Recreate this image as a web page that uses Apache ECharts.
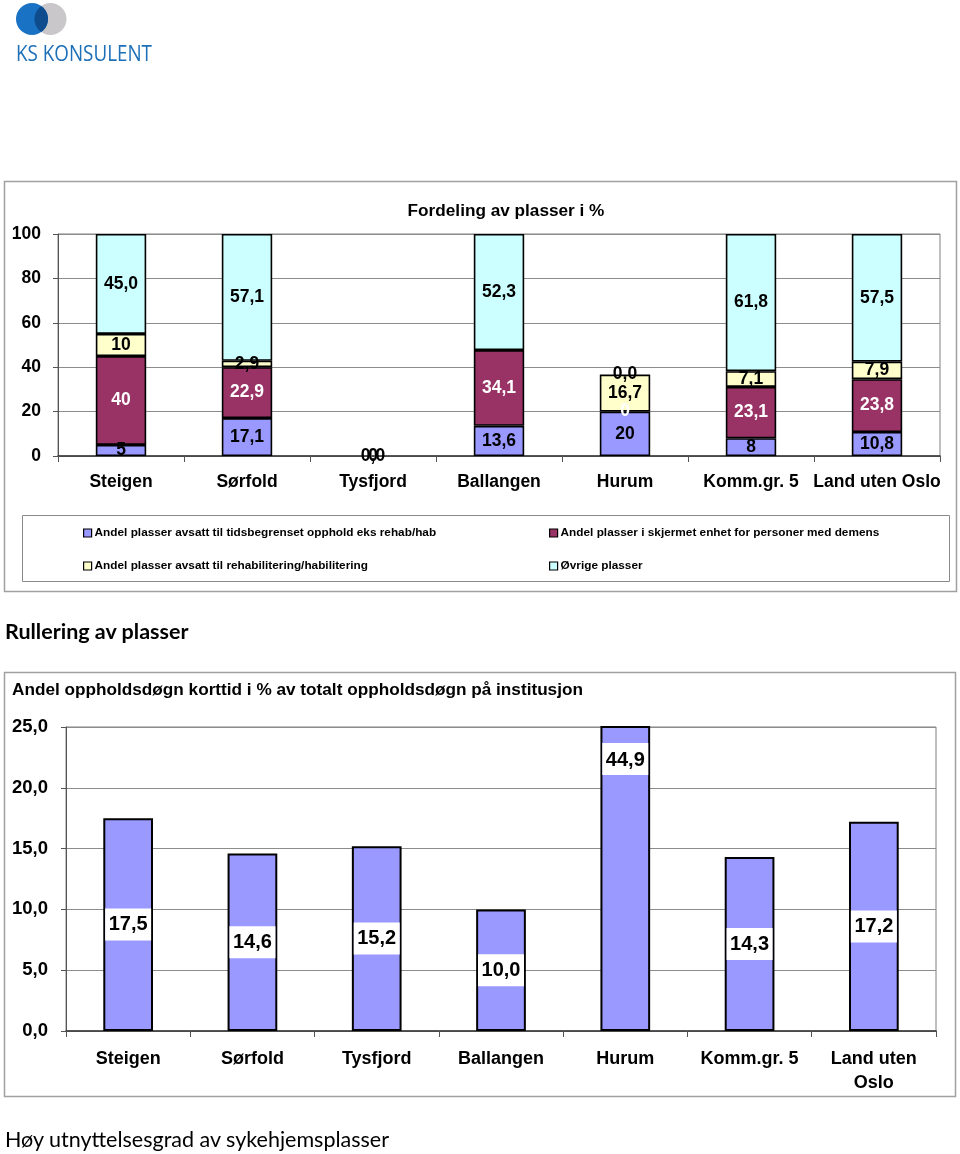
<!DOCTYPE html>
<html>
<head>
<meta charset="utf-8">
<script src="https://cdn.jsdelivr.net/npm/echarts@6/dist/echarts.min.js"></script>
<style>
html,body{margin:0;padding:0;background:#fff;}
#c{position:absolute;left:0;top:0;width:960px;height:1154px;}
#logo{position:absolute;left:0;top:0;width:170px;height:70px;}
.pt{position:absolute;left:5px;font-family:Lato,'Open Sans',sans-serif;color:#000;white-space:nowrap;}
</style>
</head>
<body>
<div id="c"></div>
<div id="logo">
<svg width="170" height="70" xmlns="http://www.w3.org/2000/svg">
<defs><clipPath id="cb"><circle cx="32" cy="19" r="16"/></clipPath></defs>
<circle cx="50.5" cy="19" r="16" fill="#c9c7c9"/>
<circle cx="32" cy="19" r="16" fill="#1a72c4"/>
<circle cx="50.5" cy="19" r="16" fill="#0f4c8e" clip-path="url(#cb)"/>
<text x="16" y="61" font-family="'Open Sans',sans-serif" font-size="21" fill="#1d6fb8" textLength="136" lengthAdjust="spacingAndGlyphs">KS KONSULENT</text>
</svg>
</div>
<div class="pt" style="top:618px;font-size:21.5px;font-weight:bold;">Rullering av plasser</div>
<div class="pt" style="top:1126px;font-size:21.5px;">Høy utnyttelsesgrad av sykehjemsplasser</div>
<script>
// ---- Chart 1: Fordeling av plasser i % ----
const categories1 = ['Steigen', 'Sørfold', 'Tysfjord', 'Ballangen', 'Hurum', 'Komm.gr. 5', 'Land uten Oslo'];
const seriesNames1 = [
  'Andel plasser avsatt til tidsbegrenset opphold eks rehab/hab',
  'Andel plasser i skjermet enhet for personer med demens',
  'Andel plasser avsatt til rehabilitering/habilitering',
  'Øvrige plasser'
];
const tidsbegrenset = [5, 17.1, 0, 13.6, 20, 8, 10.8];
const tidsbegrensetLabels = ['5', '17,1', '0', '13,6', '20', '8', '10,8'];
const skjermet = [40, 22.9, 0, 34.1, 0, 23.1, 23.8];
const skjermetLabels = ['40', '22,9', '0', '34,1', '0', '23,1', '23,8'];
const rehab = [10, 2.9, 0, 0, 16.7, 7.1, 7.9];
const rehabLabels = ['10', '2,9', '0', '', '16,7', '7,1', '7,9'];
const ovrige = [45.0, 57.1, 0, 52.3, 0.0, 61.8, 57.5];
const ovrigeLabels = ['45,0', '57,1', '0,0', '52,3', '0,0', '61,8', '57,5'];
const yMax1 = 100, yStep1 = 20;

// ---- Chart 2: Andel oppholdsdøgn korttid ----
const categories2 = ['Steigen', 'Sørfold', 'Tysfjord', 'Ballangen', 'Hurum', 'Komm.gr. 5', 'Land uten\nOslo'];
const korttid = [17.5, 14.6, 15.2, 10.0, 44.9, 14.3, 17.2];
const yMax2 = 25, yStep2 = 5;

const title1 = 'Fordeling av plasser i %';
const title2 = 'Andel oppholdsdøgn korttid i % av totalt oppholdsdøgn på institusjon';

const FONT = "'Liberation Sans', Arial, sans-serif";
const colors1 = ['#9999FF', '#993366', '#FFFFCC', '#CCFFFF'];
const labelColors1 = ['#000', '#fff', '#000', '#000'];
const values1 = [tidsbegrenset, skjermet, rehab, ovrige];
const labels1 = [tidsbegrensetLabels, skjermetLabels, rehabLabels, ovrigeLabels];

const chart = echarts.init(document.getElementById('c'), null, {renderer: 'canvas'});

const stackSeries = values1.map((arr, s) => ({
  name: seriesNames1[s],
  type: 'bar',
  stack: 'total',
  xAxisIndex: 0, yAxisIndex: 0,
  barWidth: '40%',
  itemStyle: {color: colors1[s], borderColor: '#000', borderWidth: 1.6},
  label: {
    show: true, position: 'inside', color: labelColors1[s],
    fontFamily: FONT, fontWeight: 'bold', fontSize: 17.5,
    formatter: p => labels1[s][p.dataIndex]
  },
  data: arr.map(v => v === 0 ? {value: v, itemStyle: {borderWidth: 0}} : v)
}));

const legendPos = [[83, 527], [549, 527], [83, 560], [549, 560]];
const legends = seriesNames1.map((n, i) => ({
  data: [n],
  left: legendPos[i][0], top: legendPos[i][1],
  padding: 0,
  icon: 'rect', itemWidth: 8, itemHeight: 8,
  itemStyle: {borderColor: '#000', borderWidth: 1.2},
  selectedMode: false,
  textStyle: {fontFamily: FONT, fontSize: 11.8, fontWeight: 'bold', color: '#000', padding: [0, 0, 0, -2]}
}));

const option = {
  animation: false,
  legend: legends,
  grid: [
    {left: 58, right: 20, top: 234, bottom: 1154 - 456, show: true, borderColor: '#808080', borderWidth: 1, containLabel: false},
    {left: 66, right: 24, top: 727, bottom: 1154 - 1031, show: true, borderColor: '#808080', borderWidth: 1, containLabel: false}
  ],
  xAxis: [
    {
      type: 'category', gridIndex: 0, data: categories1,
      axisLine: {lineStyle: {color: '#333', width: 1.5}},
      axisTick: {show: true, length: 6, lineStyle: {color: '#555'}},
      axisLabel: {interval: 0, color: '#000', fontFamily: FONT, fontWeight: 'bold', fontSize: 17.5, margin: 17}
    },
    {
      type: 'category', gridIndex: 1, data: categories2,
      axisLine: {lineStyle: {color: '#333', width: 1.5}},
      axisTick: {show: true, length: 6, lineStyle: {color: '#555'}},
      axisLabel: {interval: 0, color: '#000', fontFamily: FONT, fontWeight: 'bold', fontSize: 18, margin: 16, lineHeight: 24}
    }
  ],
  yAxis: [
    {
      type: 'value', gridIndex: 0, min: 0, max: yMax1, interval: yStep1,
      axisLine: {show: true, lineStyle: {color: '#555'}},
      axisTick: {show: true, length: 5, lineStyle: {color: '#555'}},
      splitLine: {lineStyle: {color: '#8c8c8c', width: 1}},
      axisLabel: {color: '#000', fontFamily: FONT, fontWeight: 'bold', fontSize: 17.5, margin: 17}
    },
    {
      type: 'value', gridIndex: 1, min: 0, max: yMax2, interval: yStep2,
      axisLine: {show: true, lineStyle: {color: '#555'}},
      axisTick: {show: true, length: 5, lineStyle: {color: '#555'}},
      splitLine: {lineStyle: {color: '#8c8c8c', width: 1}},
      axisLabel: {color: '#000', fontFamily: FONT, fontWeight: 'bold', fontSize: 18.5, margin: 18,
        formatter: v => v.toFixed(1).replace('.', ',')}
    }
  ],
  series: stackSeries.concat([
    {
      name: 'korttid', type: 'bar', xAxisIndex: 1, yAxisIndex: 1,
      barWidth: '40%',
      itemStyle: {color: '#9999FF', borderColor: '#000', borderWidth: 2},
      label: {
        show: true, position: 'inside', color: '#000', backgroundColor: '#fff',
        fontFamily: FONT, fontWeight: 'bold', fontSize: 20, lineHeight: 20,
        width: 40, align: 'center', padding: [7, 3, 5, 3],
        formatter: p => p.value.toFixed(1).replace('.', ',')
      },
      data: korttid.map(v => v > yMax2 ? {value: v, label: {position: 'insideTop', distance: 17}} : v)
    }
  ]),
  graphic: [
    {type: 'rect', shape: {x: 4.5, y: 181.5, width: 952, height: 410}, style: {fill: 'none', stroke: '#a0a0a0', lineWidth: 1.5}, z: -1},
    {type: 'rect', shape: {x: 22.5, y: 515.5, width: 927, height: 66}, style: {fill: 'none', stroke: '#8a8a8a', lineWidth: 1}, z: -1},
    {type: 'rect', shape: {x: 4.5, y: 672.5, width: 951, height: 424}, style: {fill: 'none', stroke: '#a0a0a0', lineWidth: 1.5}, z: -1},
    {type: 'text', x: 506, y: 211, style: {text: title1, align: 'center', verticalAlign: 'middle', fontFamily: FONT, fontWeight: 'bold', fontSize: 17.2, fill: '#000'}},
    {type: 'text', x: 12, y: 690, style: {text: title2, align: 'left', verticalAlign: 'middle', fontFamily: FONT, fontWeight: 'bold', fontSize: 17.2, fill: '#000'}}
  ]
};
chart.setOption(option);
</script>
</body>
</html>
